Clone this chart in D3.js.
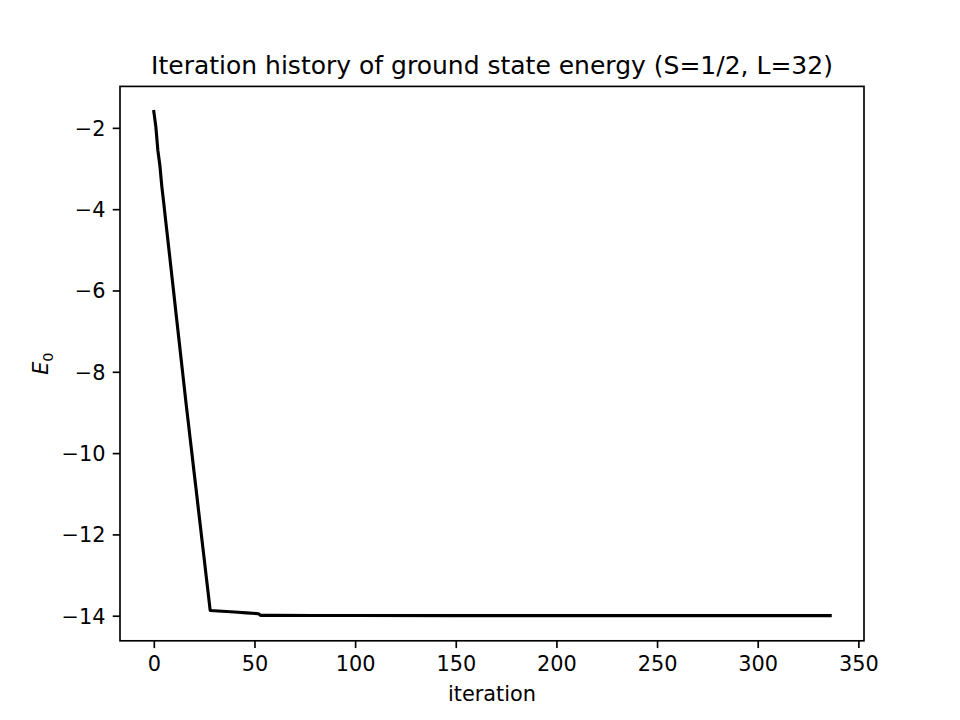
<!DOCTYPE html>
<html>
<head>
<meta charset="utf-8">
<script src="https://cdn.jsdelivr.net/npm/d3@7"></script>
<style>
  html, body { margin: 0; padding: 0; background: #fff; }
  svg { display: block; }
  text { font-family: "DejaVu Sans", sans-serif; fill: #000; }
</style>
</head>
<body>
<svg id="chart" width="960" height="720"></svg>
<script>
// ---- data ----
const iterations = [0,1,2,3,4,5,6,7,8,9,10,11,12,13,14,15,16,17,18,19,20,21,22,23,24,25,26,27,28,
  34,40,46,52,53,60,80,100,150,200,250,300,336];
const energies = [-1.60,-1.97,-2.55,-2.92,-3.45,-3.88,-4.33,-4.77,-5.21,-5.66,-6.10,-6.55,-6.99,-7.44,
  -7.88,-8.32,-8.77,-9.19,-9.62,-10.04,-10.47,-10.89,-11.32,-11.74,-12.17,-12.59,-13.02,-13.44,-13.87,
  -13.89,-13.91,-13.93,-13.95,-13.99,-13.993,-13.995,-13.996,-13.997,-13.997,-13.997,-13.997,-13.997];
const xTicks = [0,50,100,150,200,250,300,350];
const yTicks = [-14,-12,-10,-8,-6,-4,-2];
const titleText = "Iteration history of ground state energy (S=1/2, L=32)";
const xLabelText = "iteration";

// ---- layout (matplotlib defaults at 150 dpi) ----
const W = 960, H = 720;
const mLeft = 0.125 * W, mRight = 0.9 * W, mTop = (1 - 0.88) * H, mBottom = (1 - 0.11) * H;
const pt = 150 / 72;

const svg = d3.select("#chart");

const xmin = d3.min(iterations), xmax = d3.max(iterations);
const ymin = d3.min(energies), ymax = d3.max(energies);
const xpad = (xmax - xmin) * 0.05, ypad = (ymax - ymin) * 0.05;

const x = d3.scaleLinear().domain([xmin - xpad, xmax + xpad]).range([mLeft, mRight]);
const y = d3.scaleLinear().domain([ymin - ypad, ymax + ypad]).range([mBottom, mTop]);

const tickLen = 3.5 * pt, tickPad = 3.5 * pt, fs = 10 * pt;

// line
const data = iterations.map((d, i) => [d, energies[i]]);
svg.append("path")
  .datum(data)
  .attr("fill", "none")
  .attr("stroke", "#000")
  .attr("stroke-width", 1.5 * pt)
  .attr("stroke-linejoin", "round")
  .attr("stroke-linecap", "square")
  .attr("d", d3.line().x(d => x(d[0])).y(d => y(d[1])));

// axes
const xAxis = d3.axisBottom(x).tickValues(xTicks).tickSize(tickLen).tickPadding(tickPad).tickFormat(d3.format("d"));
const yAxis = d3.axisLeft(y).tickValues(yTicks).tickSize(tickLen).tickPadding(tickPad).tickFormat(d3.format("d"));

const gx = svg.append("g").attr("transform", `translate(0,${mBottom})`).call(xAxis);
const gy = svg.append("g").attr("transform", `translate(${mLeft},0)`).call(yAxis);
[gx, gy].forEach(g => {
  g.select(".domain").remove();
  g.selectAll(".tick line").attr("stroke", "#000").attr("stroke-width", 0.8 * pt);
  g.selectAll(".tick text").attr("font-size", fs).attr("font-family", "DejaVu Sans").attr("fill", "#000");
});
gx.selectAll(".tick text").attr("dy", null).attr("y", tickLen + tickPad).attr("dominant-baseline", "hanging");
gy.selectAll(".tick text").attr("dy", "0.35em");

// spines
svg.append("rect")
  .attr("x", mLeft).attr("y", mTop)
  .attr("width", mRight - mLeft).attr("height", mBottom - mTop)
  .attr("fill", "none").attr("stroke", "#000").attr("stroke-width", 0.8 * pt);

// title
svg.append("text")
  .attr("x", (mLeft + mRight) / 2).attr("y", mTop - 6 * pt)
  .attr("text-anchor", "middle")
  .attr("font-size", 12 * pt)
  .text(titleText);

// x label
svg.append("text")
  .attr("x", (mLeft + mRight) / 2).attr("y", 701)
  .attr("text-anchor", "middle")
  .attr("font-size", fs)
  .text(xLabelText);

// y label E_0
const yl = svg.append("text")
  .attr("transform", `translate(48,${(mTop + mBottom) / 2}) rotate(-90)`)
  .attr("text-anchor", "middle")
  .attr("font-size", fs);
yl.append("tspan").attr("font-style", "italic").text("E");
yl.append("tspan").attr("font-size", fs * 0.7).attr("dy", fs * 0.22).text("0");
</script>
</body>
</html>
